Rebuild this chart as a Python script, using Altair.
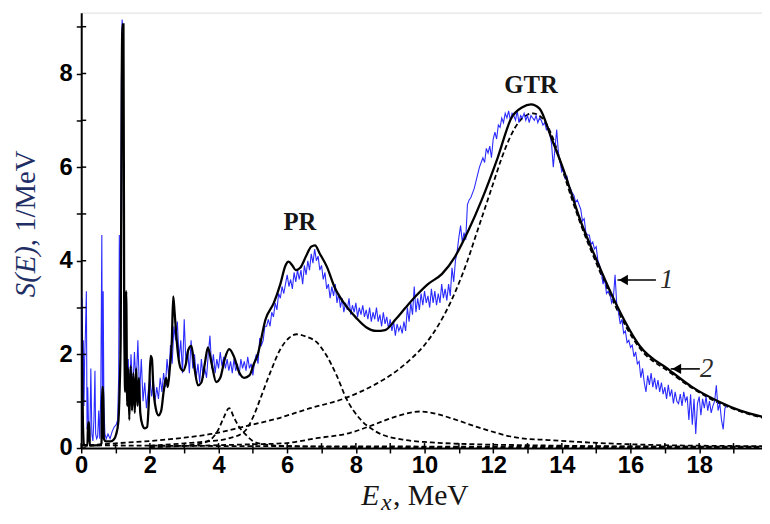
import altair as alt
import pandas as pd

# ---------------- data ----------------
# experimental spectrum, low-energy part (irregular sampling around the sharp levels)
BLUE_LOW = [
    (0.00, 2.0), (0.02, 3.2), (0.04, 1.0), (0.06, 2.3), (0.08, 0.9), (0.10, 1.9), (0.12, 2.4),
    (0.15, 3.35), (0.17, 0.4), (0.19, 1.3), (0.22, 0.2), (0.25, 0.15), (0.28, 1.7), (0.31, 0.3),
    (0.34, 0.15), (0.37, 0.6), (0.40, 1.65), (0.42, 0.3), (0.45, 0.2), (0.48, 0.25), (0.51, 0.8),
    (0.54, 0.2), (0.57, 1.2), (0.60, 4.55), (0.62, 0.6), (0.64, 3.35), (0.66, 0.9), (0.69, 0.3),
    (0.73, 0.2), (0.78, 0.3), (0.84, 0.2), (0.90, 0.35), (0.96, 0.45), (1.02, 0.5), (1.06, 0.6),
    (1.09, 1.5), (1.11, 4.55), (1.14, 2.0), (1.17, 7.8), (1.19, 9.15), (1.21, 9.0), (1.23, 5.0),
    (1.25, 2.4), (1.28, 1.4), (1.31, 2.1), (1.34, 1.0), (1.37, 1.9),
]
# experimental spectrum from 1.40 MeV on, 0.05 MeV bins
BLUE_START = 1.40
BLUE_BIN = 0.05
BLUE_VALUES = [
    1.1, 2.0, 1.2, 2.05, 1.3, 2.3, 1.15, 1.9, 1.0, 1.4, 0.85, 1.2, 1.5, 1.1, 1.45, 1.0, 1.3, 1.05, 1.5, 1.2,
    1.6, 1.3, 1.9, 1.5, 2.2, 1.8, 2.6, 2.3, 2.7, 1.9, 2.3, 1.6, 2.75, 1.8, 2.1, 1.6, 2.3, 1.7, 2.0, 1.5,
    1.8, 1.4, 1.9, 1.5, 1.7, 1.5, 2.0, 2.4, 1.7, 2.0, 1.6, 1.9, 1.7, 2.05, 1.75, 1.95, 1.7, 1.9, 1.65, 1.85,
    1.6, 1.9, 1.65, 1.8, 1.55, 1.9, 1.7, 1.85, 1.65, 1.95, 1.7, 1.8, 1.55, 1.85, 2.0, 1.8, 2.35, 2.2, 2.3, 2.6,
    2.6, 2.75, 2.6, 2.9, 2.8, 3.1, 2.95, 3.3, 3.2, 3.45, 3.3, 3.5, 3.7, 3.45, 3.6, 3.4, 3.75, 3.55, 3.8, 3.6,
    3.8, 3.5, 3.9, 3.7, 4.0, 3.8, 4.15, 3.95, 4.25, 4.0, 4.1, 3.8, 3.9, 3.6, 3.75, 3.4, 3.5, 3.2, 3.45, 3.25,
    3.5, 3.1, 3.3, 3.0, 3.2, 2.9, 3.1, 2.95, 3.2, 2.85, 3.05, 2.9, 3.1, 2.8, 3.0, 2.85, 3.05, 2.8, 2.95, 2.75,
    3.0, 2.7, 2.9, 2.75, 3.0, 2.7, 2.85, 2.6, 2.9, 2.65, 2.8, 2.55, 2.75, 2.5, 2.7, 2.4, 2.65, 2.5, 2.6, 2.45,
    2.7, 2.5, 3.0, 2.7, 3.1, 2.85, 3.45, 2.9, 3.2, 2.95, 3.3, 3.05, 3.35, 3.1, 3.25, 3.0, 3.4, 3.1, 3.35, 3.05,
    3.3, 3.1, 3.5, 3.2, 3.4, 3.15, 3.5, 3.25, 3.85, 3.55, 4.0, 4.2, 4.5, 4.75, 4.4, 4.6, 4.45, 5.2, 5.3, 5.35,
    5.45, 5.55, 5.7, 5.85, 6.0, 6.1, 6.2, 6.1, 6.4, 6.3, 6.45, 6.2, 6.6, 6.75, 6.6, 6.9, 6.85, 7.05, 6.95, 7.15,
    7.05, 7.2, 7.0, 7.15, 7.1, 7.0, 7.2, 6.95, 7.1, 7.05, 7.15, 7.0, 7.1, 6.95, 7.1, 7.05, 7.0, 7.1, 6.95, 7.05,
    7.0, 6.9, 6.95, 6.8, 6.85, 6.7, 6.5, 6.0, 6.4, 6.8, 6.3, 6.1, 5.9, 5.95, 5.75, 5.8, 5.6, 5.55, 5.45, 5.4,
    5.25, 5.3, 5.2, 5.1, 4.85, 4.9, 4.6, 4.55, 4.55, 4.35, 4.4, 4.25, 4.3, 4.0, 3.9, 3.75, 3.5, 3.6, 3.3, 3.35,
    3.3, 3.1, 3.2, 3.7, 3.05, 2.9, 2.65, 2.75, 2.45, 2.5, 2.25, 2.3, 2.15, 2.2, 1.95, 2.05, 1.8, 1.85, 1.5, 1.7,
    1.4, 1.2, 1.55, 1.35, 1.6, 1.3, 1.5, 1.25, 1.45, 1.2, 1.4, 1.15, 1.3, 1.05, 1.35, 1.1, 1.25, 0.95, 1.2, 1.0,
    0.95, 1.15, 0.9, 1.2, 1.0, 1.1, 0.6, 1.15, 0.5, 1.05, 0.3, 0.95, 1.1, 0.7, 1.05, 0.85, 1.1, 0.8, 1.0, 0.75,
    0.9, 1.0, 1.34, 0.8, 0.95, 0.6, 0.4, 0.85, 0.9,
]
# total calculated strength function (solid black)
FIT = [
    (0.00, 3.2), (0.02, 2.3), (0.05, 0.5), (0.08, 0.06), (0.18, 0.05), (0.20, 0.55), (0.23, 0.55),
    (0.25, 0.05), (0.55, 0.06), (0.59, 0.1), (0.61, 1.3), (0.64, 1.3), (0.66, 0.2), (0.72, 0.14),
    (0.85, 0.14), (0.95, 0.18), (1.02, 0.3), (1.08, 0.55), (1.12, 1.3), (1.15, 2.4), (1.18, 7.8),
    (1.20, 9.05), (1.23, 9.05), (1.25, 3.35), (1.28, 1.2), (1.31, 3.35), (1.34, 0.9), (1.37, 1.7),
    (1.40, 0.6), (1.44, 1.75), (1.48, 0.8), (1.52, 1.6), (1.56, 0.75), (1.60, 1.7), (1.64, 0.9),
    (1.68, 1.5), (1.72, 0.75), (1.78, 0.5), (1.85, 0.42), (1.92, 0.45), (1.97, 1.0), (2.02, 1.97),
    (2.06, 1.9), (2.10, 1.3), (2.17, 0.85), (2.25, 0.7), (2.33, 0.8), (2.40, 1.2), (2.47, 1.5),
    (2.52, 1.3), (2.58, 1.7), (2.64, 2.3), (2.68, 3.24), (2.72, 2.9), (2.77, 2.4), (2.82, 2.0),
    (2.90, 1.7), (2.97, 1.65), (3.05, 1.8), (3.12, 2.1), (3.21, 2.18), (3.30, 1.7), (3.40, 1.34),
    (3.50, 1.4), (3.60, 1.8), (3.69, 2.15), (3.80, 1.8), (3.93, 1.41), (4.05, 1.5), (4.18, 1.9),
    (4.31, 2.11), (4.45, 1.95), (4.60, 1.62), (4.75, 1.5), (4.90, 1.55), (5.03, 1.8), (5.13, 1.97),
    (5.37, 2.75), (5.61, 3.1), (5.80, 3.5), (5.95, 3.9), (6.04, 3.98), (6.15, 3.9), (6.25, 3.8),
    (6.38, 3.85), (6.55, 4.1), (6.70, 4.3), (6.81, 4.33), (6.95, 4.15), (7.15, 3.88), (7.40, 3.4),
    (7.63, 3.12), (8.01, 2.78), (8.30, 2.58), (8.60, 2.5), (8.85, 2.52), (9.16, 2.75), (9.45, 3.0),
    (9.74, 3.24), (10.10, 3.5), (10.51, 3.72), (10.89, 4.09), (11.28, 4.65), (11.66, 5.29),
    (12.13, 6.2), (12.53, 7.05), (12.85, 7.28), (13.10, 7.34), (13.35, 7.25), (13.68, 6.65),
    (14.06, 5.92), (14.54, 4.86), (15.02, 4.0), (15.50, 3.2), (16.27, 2.18), (17.14, 1.66),
    (17.80, 1.3), (18.58, 0.99), (19.20, 0.8), (19.83, 0.67),
]
# individual resonance components (dashed)
COMP_LOW = [(2.0, 0.02), (3.0, 0.05), (3.5, 0.1), (3.8, 0.2), (4.0, 0.4), (4.15, 0.65), (4.31, 0.85),
            (4.45, 0.65), (4.6, 0.45), (4.8, 0.28), (5.0, 0.15), (5.3, 0.08), (6.0, 0.04), (8.0, 0.02),
            (12.0, 0.01), (19.83, 0.01)]
COMP_PR = [(2.0, 0.05), (3.0, 0.1), (3.8, 0.15), (4.27, 0.2), (4.75, 0.35), (5.03, 0.7), (5.22, 1.06),
           (5.51, 1.62), (5.8, 2.11), (6.05, 2.35), (6.28, 2.43), (6.55, 2.38), (6.86, 2.26), (7.15, 1.97),
           (7.44, 1.55), (7.72, 1.06), (8.11, 0.63), (8.59, 0.35), (9.36, 0.18), (10.2, 0.12), (11.5, 0.08),
           (13.0, 0.06), (15.0, 0.04), (17.0, 0.03), (19.83, 0.02)]
COMP_10 = [(2.0, 0.03), (4.0, 0.06), (5.0, 0.08), (5.9, 0.1), (6.86, 0.21), (7.82, 0.32), (8.49, 0.49),
           (9.2, 0.68), (9.88, 0.78), (10.4, 0.72), (10.8, 0.63), (11.66, 0.42), (12.7, 0.22), (13.6, 0.17),
           (14.5, 0.13), (15.3, 0.1), (17.0, 0.06), (19.83, 0.04)]
COMP_GTR = [(0.0, 0.05), (1.0, 0.1), (2.0, 0.15), (3.0, 0.22), (3.8, 0.3), (4.75, 0.46), (5.71, 0.63),
            (6.67, 0.85), (7.63, 1.05), (8.59, 1.37), (9.1, 1.6), (9.6, 1.9), (10.0, 2.2), (10.4, 2.62),
            (10.75, 3.1), (11.0, 3.52), (11.25, 4.0), (11.5, 4.55), (11.75, 5.1), (12.0, 5.65), (12.25, 6.2),
            (12.5, 6.65), (12.75, 6.97), (13.0, 7.12), (13.15, 7.15), (13.3, 7.12), (13.5, 6.98), (13.8, 6.5),
            (14.06, 5.85), (14.54, 4.8), (15.02, 3.92), (15.5, 3.12), (16.27, 2.13), (17.14, 1.62),
            (17.8, 1.28), (18.58, 0.96), (19.2, 0.78), (19.83, 0.65)]
COMP_BASE = [(0.0, 0.06), (2.0, 0.05), (5.0, 0.04), (8.0, 0.035), (12.0, 0.03), (16.0, 0.03), (19.83, 0.03)]

X_TICKS = list(range(0, 20))
Y_TICKS = list(range(0, 10))

PEAK_LABELS = [("PR", 6.37, 4.82), ("GTR", 13.1, 7.75)]
CURVE_LABELS = [("1", 17.05, 3.59), ("2", 18.22, 1.69)]
ARROWS = [(15.62, 16.74, 3.59), (17.17, 18.02, 1.69)]  # tip x, tail x, y

# ---------------- build tables ----------------
blue_x = [p[0] for p in BLUE_LOW] + [round(BLUE_START + i * BLUE_BIN, 2) for i in range(len(BLUE_VALUES))]
blue_y = [p[1] for p in BLUE_LOW] + BLUE_VALUES
blue_df = pd.DataFrame({"x": blue_x, "y": blue_y})
fit_df = pd.DataFrame(FIT, columns=["x", "y"])
comp_frames = []
for name, pts in [("low", COMP_LOW), ("pr", COMP_PR), ("c10", COMP_10), ("gtr", COMP_GTR), ("base", COMP_BASE)]:
    f = pd.DataFrame(pts, columns=["x", "y"])
    f["comp"] = name
    comp_frames.append(f)
comp_df = pd.concat(comp_frames, ignore_index=True)
peak_df = pd.DataFrame(PEAK_LABELS, columns=["t", "x", "y"])
curve_df = pd.DataFrame(CURVE_LABELS, columns=["t", "x", "y"])
arrow_df = pd.DataFrame(ARROWS, columns=["x", "x2", "y"])

W, H = 688, 440
xs = alt.Scale(domain=[0, 19.83], nice=False, zero=False)
ys = alt.Scale(domain=[0, 9.3], nice=False, zero=False)

common_axis = dict(
    grid=False, title=None, domainColor="black", domainWidth=2, tickColor="black",
    tickWidth=1.5, tickSize=5, labelFont="Liberation Sans", labelFontSize=24,
    labelFontWeight="bold", labelColor="black", labelOverlap=False,
    labelExpr="datum.value % 2 === 0 ? datum.label : ''",
)
xaxis = alt.Axis(values=X_TICKS, labelPadding=1, labelFlush=False, **common_axis)
yaxis = alt.Axis(values=Y_TICKS, labelPadding=4, **common_axis)

X = alt.X("x:Q", scale=xs, axis=xaxis)
Y = alt.Y("y:Q", scale=ys, axis=yaxis)

comps = alt.Chart(comp_df).mark_line(
    color="black", strokeWidth=1.8, strokeDash=[5, 3], interpolate="monotone", clip=True
).encode(x=X, y=Y, detail="comp:N", order="x:Q")

blue = alt.Chart(blue_df).mark_line(color="#2b2bff", strokeWidth=1.1, clip=True).encode(
    x=X, y=Y, order="x:Q")

fit = alt.Chart(fit_df).mark_line(color="black", strokeWidth=2.3, interpolate="monotone", clip=True).encode(
    x=X, y=Y, order="x:Q")

in_x = alt.Chart(pd.DataFrame({"x": X_TICKS})).mark_rule(color="black", strokeWidth=1.5).encode(
    x=X, y=alt.value(H), y2=alt.value(H - 5))
in_y = alt.Chart(pd.DataFrame({"y": Y_TICKS})).mark_rule(color="black", strokeWidth=1.5).encode(
    y=Y, x=alt.value(0), x2=alt.value(5))

peaks = alt.Chart(peak_df).mark_text(
    font="Liberation Serif", fontWeight="bold", fontSize=25, color="#151515", baseline="middle"
).encode(x=X, y=Y, text="t:N")

arrows = alt.Chart(arrow_df).mark_rule(color="black", strokeWidth=1.6).encode(
    x=X, x2="x2:Q", y=Y)
heads = alt.Chart(arrow_df).mark_point(
    shape="triangle-left", filled=True, color="black", size=110, opacity=1, xOffset=6
).encode(x=X, y=Y)
curve_labels = alt.Chart(curve_df).mark_text(
    font="Liberation Serif", fontStyle="italic", fontSize=27, color="#2a2a2a", baseline="middle"
).encode(x=X, y=Y, text="t:N")

TITLE_FONT = "Liberation Serif"
TITLE_COLOR = "#1f2f66"
yt1 = alt.Chart(pd.DataFrame({"t": ["S(E)"]})).mark_text(
    font=TITLE_FONT, fontStyle="italic", fontSize=29, angle=270, align="right", baseline="middle",
    color=TITLE_COLOR).encode(text="t:N", x=alt.value(-56), y=alt.value(236))
yt2 = alt.Chart(pd.DataFrame({"t": [", 1/MeV"]})).mark_text(
    font=TITLE_FONT, fontSize=29, angle=270, align="left", baseline="middle",
    color=TITLE_COLOR).encode(text="t:N", x=alt.value(-56), y=alt.value(236))

xt1 = alt.Chart(pd.DataFrame({"t": ["E"]})).mark_text(
    font=TITLE_FONT, fontStyle="italic", fontSize=30, align="left", baseline="alphabetic",
    color="#151515").encode(text="t:N", x=alt.value(283), y=alt.value(498))
xt2 = alt.Chart(pd.DataFrame({"t": ["x"]})).mark_text(
    font=TITLE_FONT, fontStyle="italic", fontSize=24, align="left", baseline="alphabetic",
    color="#151515").encode(text="t:N", x=alt.value(303), y=alt.value(503))
xt3 = alt.Chart(pd.DataFrame({"t": [", MeV"]})).mark_text(
    font=TITLE_FONT, fontSize=30, align="left", baseline="alphabetic",
    color="#151515").encode(text="t:N", x=alt.value(315), y=alt.value(498))

chart = alt.layer(
    comps, blue, fit, in_x, in_y, peaks, arrows, heads, curve_labels, yt1, yt2, xt1, xt2, xt3
).properties(
    width=W, height=H,
    autosize=alt.AutoSizeParams(type="none"),
    padding={"left": 74, "top": 2, "right": 0, "bottom": 64},
).configure_view(strokeWidth=0).configure(background="white")

chart.save("out.html", embed_options={"renderer": "svg", "actions": False})
